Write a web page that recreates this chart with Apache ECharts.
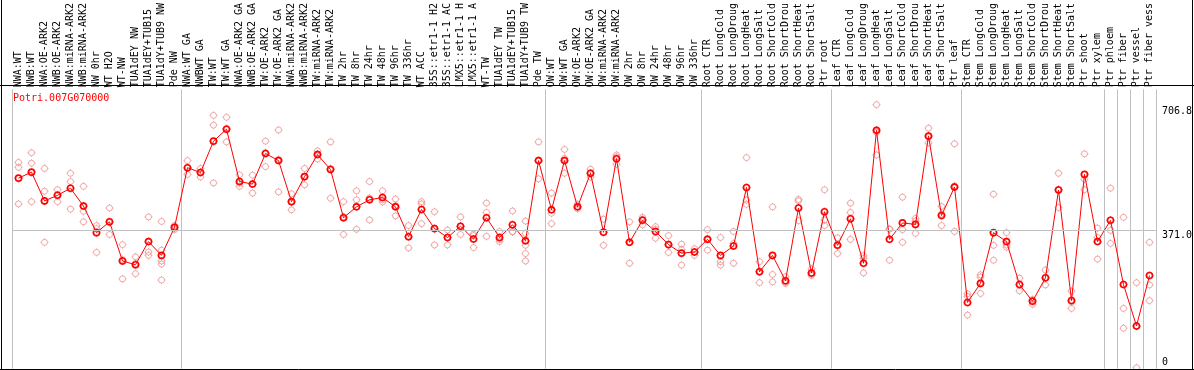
<!DOCTYPE html>
<html>
<head>
<meta charset="utf-8">
<script src="https://cdn.jsdelivr.net/npm/echarts@6/dist/echarts.min.js"></script>
<style>
html,body{margin:0;padding:0;background:#fff;}
#chart{width:1194px;height:370px;}
</style>
</head>
<body>
<div id="chart"></div>
<script>
const geneId = 'Potri.007G070000';

const categories = [
 'NWA:WT','NWB:WT','NWA:OE-ARK2','NWB:OE-ARK2','NWA:miRNA-ARK2','NWB:miRNA-ARK2','NW 0hr','WT H2O','WT-NW','TUA1dEY NW',
 'TUA1dEY+TUB15','TUA1dY+TUB9 NW','Pde NW','NWA:WT GA','NWBWT GA','TW:WT','TW:WT GA','NWA:OE-ARK2 GA','NWB:OE-ARK2 GA','TW:OE-ARK2',
 'TW:OE-ARK2 GA','NWA:miRNA-ARK2','NWB:miRNA-ARK2','TW:miRNA-ARK2','TW:miRNA-ARK2','TW 2hr','TW 8hr','TW 24hr','TW 48hr','TW 96hr',
 'TW 336hr','WT ACC','35S::etr1-1 H2','35S::etr1-1 AC','LMX5::etr1-1 H','LMX5::etr1-1 A','WT-TW','TUA1dEY TW','TUA1dEY+TUB15','TUA1dY+TUB9 TW',
 'Pde TW','OW:WT','OW:WT GA','OW:OE-ARK2','OW:OE-ARK2 GA','OW:miRNA-ARK2','OW:miRNA-ARK2','OW 2hr','OW 8hr','OW 24hr',
 'OW 48hr','OW 96hr','OW 336hr','Root CTR','Root LongCold','Root LongDroug','Root LongHeat','Root LongSalt','Root ShortCold','Root ShortDrou',
 'Root ShortHeat','Root ShortSalt','Ptr root','Leaf CTR','Leaf LongCold','Leaf LongDroug','Leaf LongHeat','Leaf LongSalt','Leaf ShortCold','Leaf ShortDrou',
 'Leaf ShortHeat','Leaf ShortSalt','Ptr leaf','Stem CTR','Stem LongCold','Stem LongDroug','Stem LongHeat','Stem LongSalt','Stem ShortCold','Stem ShortDrou',
 'Stem ShortHeat','Stem ShortSalt','Ptr shoot','Ptr xylem','Ptr phloem','Ptr fiber','Ptr vessel','Ptr fiber vess'
];

const means = [
 510,526,449,464,483,435,364,393,288,278,
 340,303,378,538,525,609,641,501,494,576,
 557,447,514,573,533,404,433,452,458,433,
 353,426,375,351,381,347,404,351,385,342,
 557,425,557,433,523,365,562,338,397,367,
 332,309,312,346,303,328,485,259,303,235,
 430,256,420,330,401,282,638,346,390,386,
 623,410,486,177,228,364,340,225,180,243,
 478,182,520,340,397,225,114,249
];

const replicates = [
 [552,539,441],[578,550,447],[536,475,338],[479,447,466],[523,501,427],[488,421,393],[383,375,311],[430,391,359],[332,292,240],[299,281,254],
 [406,312,303],[394,317,288,280,237],[383,379,372],[557,537,520],[536,526,513],[678,652,497],[673,643,607],[519,496,488],[518,494,470],[609,578,541],
 [639,560,473],[468,448,425],[536,515,492],[583,575,561],[607,536,456],[447,407,359],[476,452,373],[501,457,398],[476,452,446],[454,436,409],
 [383,354,323],[447,441,388],[420,373,331],[371,351,331],[406,380,359],[360,356,324],[443,418,354],[367,346,340],[422,366,367],[395,362,330,308,288],
 [607,557,508],[470,416,388],[587,563,523],[440,433,428],[534,522,513],[400,365,330],[572,567,547],[393,339,282],[405,400,385],[380,373,349],
 [356,330,311],[333,319,277],[321,312,303],[372,348,317],[351,286,277],[367,335,282],[565,451,440],[286,261,230],[433,252,232],[246,231,228],
 [453,449,396],[267,252,249],[479,398,383],[350,332,308],[443,418,346],[302,295,256],[706.8,633,572],[374,373,290],[459,372,338],[402,395,362],
 [644,620,604],[434,414,383],[602,489,367],[200,193,143],[251,245,201],[467,330,290],[364,331,325],[242,225,208],[185,183,172],[264,242,224],
 [523,480,431],[207,178,161],[575,507,479],[376,351,293],[483,370,335],[405,161,108],[230,113,2],[338,224,182]
];

// category indices that start a new group (vertical separators drawn on their left edge)
const separatorsBefore = [0, 13, 41, 53, 63, 73, 84, 85, 86, 87];
const yLabelValues = [706.8, 371.0, 0];
const yMax = 748;

const replicatePoints = [];
replicates.forEach((arr, i) => arr.forEach(v => replicatePoints.push([i, v])));

const FONT = 'DejaVu Sans Mono';
const sym = 'path://M0,-4L0,-3M0,3L0,4M-4,0L-3,0M3,0L4,0M3,0A3,3,0,1,1,-3,0A3,3,0,1,1,3,0Z';
const sepFn = (idx) => separatorsBefore.indexOf(idx) >= 0;

const chart = echarts.init(document.getElementById('chart'), null, {renderer: 'canvas'});
chart.setOption({
  animation: false,
  backgroundColor: '#fff',
  title: {
    text: geneId, left: 8, top: 88,
    textStyle: {fontFamily: FONT, fontSize: 10, fontWeight: 'normal', color: '#ff0000'}
  },
  grid: {left: 12, right: 38, top: 85, bottom: 1.5},
  xAxis: {
    type: 'category', data: categories, position: 'top', boundaryGap: true,
    axisLine: {show: false},
    axisTick: {show: true, length: 86, interval: sepFn, lineStyle: {color: '#c0c0c0', width: 1}},
    splitLine: {show: true, interval: sepFn, lineStyle: {color: '#c0c0c0', width: 1}},
    axisLabel: {interval: 0, rotate: 90, margin: 2, fontFamily: FONT, fontSize: 10, color: '#000'}
  },
  yAxis: {type: 'value', min: 0, max: yMax, show: false},
  graphic: [
    {type: 'line', shape: {x1: 0, y1: 85.5, x2: 1194, y2: 85.5}, style: {stroke: '#000', lineWidth: 1}, z: 100},
    {type: 'line', shape: {x1: 1.5, y1: 0, x2: 1.5, y2: 370}, style: {stroke: '#000', lineWidth: 1}, z: 100},
    {type: 'line', shape: {x1: 1192.5, y1: 0, x2: 1192.5, y2: 370}, style: {stroke: '#000', lineWidth: 1}, z: 100},
    {type: 'line', shape: {x1: 0, y1: 369.5, x2: 1194, y2: 369.5}, style: {stroke: '#000', lineWidth: 1}, z: 100}
  ],
  series: [
    {
      type: 'scatter', data: replicatePoints, symbol: sym, symbolSize: 8,
      itemStyle: {color: 'rgba(0,0,0,0)', borderColor: '#ec9292', borderWidth: 1},
      silent: true, z: 2
    },
    {
      type: 'line', data: means, symbol: sym, symbolSize: 8, showAllSymbol: true,
      lineStyle: {color: '#ff0000', width: 1},
      itemStyle: {color: 'rgba(0,0,0,0)', borderColor: '#ff0000', borderWidth: 1.6},
      silent: true, z: 3,
      markLine: {
        silent: true, symbol: 'none', animation: false,
        label: {show: true, position: 'end', distance: 6, fontFamily: FONT, fontSize: 10, color: '#000',
                formatter: p => p.value === 0 ? '0' : Number(p.value).toFixed(1)},
        data: yLabelValues.map(v => ({
          yAxis: v,
          lineStyle: {color: v === 371.0 ? '#c0c0c0' : 'rgba(0,0,0,0)', width: 1, type: 'solid'},
          label: {show: true, color: '#000', offset: [0, v === 0 ? -6 : (v === 371.0 ? 5 : 7)]}
        }))
      }
    }
  ]
});
</script>
</body>
</html>
